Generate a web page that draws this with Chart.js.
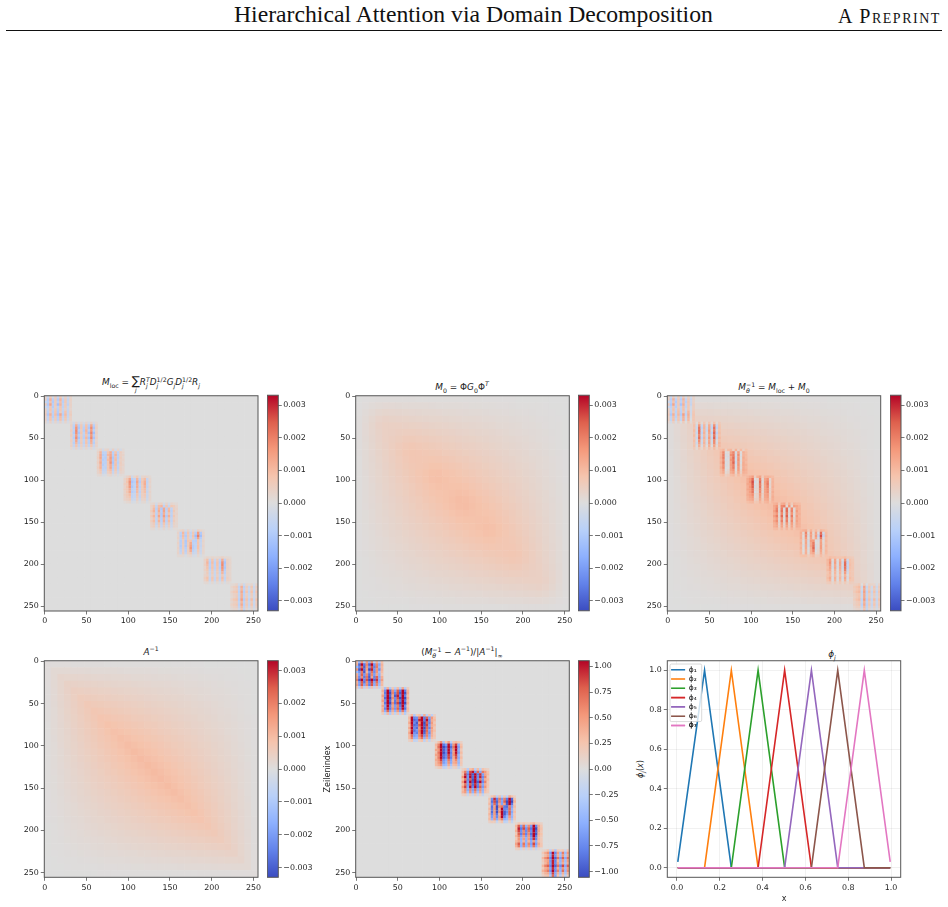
<!DOCTYPE html>
<html>
<head>
<meta charset="utf-8">
<title>Hierarchical Attention via Domain Decomposition</title>
<script src="https://cdn.jsdelivr.net/npm/chart.js@4/dist/chart.umd.min.js"></script>
<style>
    body { margin: 0; background: #fff; width: 948px; height: 907px; overflow: hidden; position: relative; }
    canvas { position: absolute; display: block; }
    .head { position: absolute; font-family: "Liberation Serif", serif; color: #111; white-space: nowrap; }
    .rule { position: absolute; left: 6px; width: 936px; top: 30px; height: 1px; background: #111; }
    .ttl { position: absolute; transform: translateX(-50%); font: italic 8.9px "DejaVu Sans", sans-serif; color: #1a1a1a; white-space: nowrap; line-height: 12px; }
    .ttl i { font-style: normal; }
    .ttl sub, .ttl sup { font-size: 0.7em; line-height: 0; }
    .pair { display: inline-flex; flex-direction: column; vertical-align: middle; font-size: 0.7em; line-height: 0.95em; text-align: left; }
    .sum { display: inline-flex; flex-direction: column; align-items: center; vertical-align: top; line-height: 11px; font-size: 12px; height: 12px; }
    .sum small { font-size: 6px; line-height: 5px; }
    .ylab { position: absolute; transform: translate(-50%, -50%) rotate(-90deg); font: italic 8px "DejaVu Sans", sans-serif; color: #1a1a1a; white-space: nowrap; }
    .ylab sub { font-size: 0.7em; line-height: 0; }
</style>
</head>
<body>
<div class="head" style="left:234px;top:1px;font-size:23.7px;">Hierarchical Attention via Domain Decomposition</div>
<div class="head" style="left:838px;top:5px;font-size:20px;letter-spacing:1.5px;font-variant:small-caps;">A Preprint</div>
<div class="rule"></div>

<div class="ttl" style="left:151px;top:376px;">M<sub><i>loc</i></sub> = <span class="sum"><i>∑</i><small>j</small></span>R<span class="pair"><span>T</span><span>j</span></span>D<span class="pair"><i>1/2</i><span>j</span></span>G<sub>j</sub>D<span class="pair"><i>1/2</i><span>j</span></span>R<sub>j</sub></div>
<div class="ttl" style="left:462px;top:381px;">M<sub><i>0</i></sub> <i>= Φ</i>G<sub><i>0</i></sub><i>Φ</i><sup>T</sup></div>
<div class="ttl" style="left:774px;top:381px;">M<span class="pair"><i>−1</i><span>θ</span></span> <i>=</i> M<sub><i>loc</i></sub> <i>+</i> M<sub><i>0</i></sub></div>
<div class="ttl" style="left:151px;top:646px;">A<sup><i>−1</i></sup></div>
<div class="ttl" style="left:462px;top:646px;"><i>(</i>M<span class="pair"><i>−1</i><span>θ</span></span> <i>−</i> A<sup><i>−1</i></sup><i>)/|</i>A<sup><i>−1</i></sup><i>|</i><sub><i>∞</i></sub></div>
<div class="ttl" style="left:832px;top:648px;">ϕ<sub>j</sub></div>
<div class="ylab" style="left:640px;top:769px;">ϕ<sub>j</sub><span style="font-style:normal">(</span>x<span style="font-style:normal">)</span></div>

<script>
// tick positions and labels
const matrixTicks = [0, 50, 100, 150, 200, 250];
const smallTicks = [-0.003, -0.002, -0.001, 0, 0.001, 0.002, 0.003];
const smallTickLabels = ['−0.003', '−0.002', '−0.001', '0.000', '0.001', '0.002', '0.003'];
const errorTicks = [-1, -0.75, -0.5, -0.25, 0, 0.25, 0.5, 0.75, 1];
const errorTickLabels = ['−1.00', '−0.75', '−0.50', '−0.25', '0.00', '0.25', '0.50', '0.75', '1.00'];
const unitTicks = [0, 0.2, 0.4, 0.6, 0.8, 1];
const unitTickLabels = ['0.0', '0.2', '0.4', '0.6', '0.8', '1.0'];

// colour limits of the two colorbars
const smallLimit = 0.0033;
const errorLimit = 1.055;
const inverseNorm = 0.00105;

// upper triangle of A^-1 on a 32x32 grid, 8 matrix entries per cell, in units of 1e-5
const inverseUpper = [
    [6,6,6,6,5,5,5,5,5,4,4,4,4,4,3,3,3,3,3,2,2,2,2,2,1,1,1,1,1,0,0,0],
    [18,17,17,16,16,15,14,14,13,13,12,11,11,10,10,9,8,8,7,7,6,6,5,4,4,3,3,2,1,1,0],
    [29,28,27,26,25,24,23,22,21,20,19,18,17,16,15,14,13,12,11,10,9,8,7,6,5,4,3,2,1,0],
    [39,38,36,35,34,32,31,29,28,27,25,24,23,21,20,19,17,16,14,13,12,10,9,8,6,5,3,2,1],
    [48,47,45,43,41,40,38,36,34,33,31,29,27,25,24,22,20,18,17,15,13,11,10,8,6,4,3,1],
    [57,55,53,50,48,46,44,42,40,38,35,33,31,29,27,25,23,20,18,16,14,12,10,8,5,3,1],
    [65,62,60,57,55,52,50,47,44,42,39,37,34,32,29,27,24,22,19,17,14,11,9,6,4,1],
    [72,69,66,63,60,57,54,51,48,45,43,40,37,34,31,28,25,22,19,16,13,10,7,4,1],
    [78,75,71,68,65,61,58,55,51,48,45,42,38,35,32,28,25,22,18,15,12,8,5,2],
    [84,80,76,72,69,65,61,58,54,50,46,43,39,35,32,28,24,20,17,13,9,6,2],
    [88,84,80,76,72,68,64,59,55,51,47,43,39,35,31,27,23,18,14,10,6,2],
    [92,88,83,79,74,70,65,61,56,52,47,43,38,34,29,25,20,16,11,7,2],
    [95,90,85,81,76,71,66,61,56,51,46,41,37,32,27,22,17,12,7,2],
    [98,92,87,82,76,71,66,61,55,50,45,40,34,29,24,18,13,8,3],
    [99,93,88,82,76,71,65,59,54,48,42,37,31,25,20,14,8,3],
    [100,94,88,82,76,70,64,57,51,45,39,33,27,21,15,9,3],
    [100,94,87,81,74,68,61,55,48,42,35,29,23,16,10,3],
    [99,92,86,79,72,65,58,51,44,38,31,24,17,10,3],
    [98,90,83,76,69,61,54,47,40,33,25,18,11,4],
    [95,88,80,72,65,57,50,42,34,27,19,11,4],
    [92,84,76,68,60,52,44,36,28,20,12,4],
    [88,80,71,63,55,46,38,29,21,13,4],
    [84,75,66,57,48,40,31,22,13,4],
    [78,69,60,50,41,32,23,14,5],
    [72,62,53,43,33,24,14,5],
    [65,55,45,35,25,15,5],
    [57,47,36,26,16,5],
    [48,38,27,16,5],
    [39,28,17,6],
    [29,17,6],
    [18,6],
    [6]
];

// M_0 inside the eight diagonal blocks (outside them it agrees with A^-1)
const coarseBlocks = [
    [[1,2,3,5],[2,6,10,14],[3,10,17,24],[5,14,24,33]],
    [[43,43,43,42],[43,45,48,50],[43,48,53,58],[42,50,58,66]],
    [[73,71,69,67],[71,72,73,74],[69,73,76,80],[67,74,80,87]],
    [[90,87,83,80],[87,86,85,85],[83,85,88,90],[80,85,90,95]],
    [[95,90,85,80],[90,88,85,83],[85,85,86,87],[80,83,87,90]],
    [[87,80,74,67],[80,76,73,69],[74,73,72,71],[67,69,71,73]],
    [[66,58,50,42],[58,53,48,43],[50,48,45,43],[42,43,43,43]],
    [[33,24,14,5],[24,17,10,3],[14,10,6,2],[5,3,2,1]]
];

// first matrix index of every local block, blocks have 11x11 cells of 3 entries each
const blockStarts = [0, 31, 63, 95, 127, 159, 191, 223];

// M_loc per block, units of 1e-5
const localBlocks = [
    [[35,-45,60,-30,55,-50,60,-25,40,-30,30],
     [45,-90,120,-85,70,-95,115,-70,65,-60,40],
     [-40,-75,85,-95,60,-70,90,-80,70,-50,35],
     [60,-100,140,-80,65,-120,110,-65,60,-70,40],
     [-40,-70,75,-90,50,-65,80,-70,60,-40,35],
     [45,-60,85,-65,70,-80,75,-55,50,-50,30],
     [50,-75,65,-80,80,-90,60,-70,85,-55,45],
     [70,-100,120,-75,95,-110,135,-85,100,-55,55],
     [40,-65,85,-85,65,-80,95,-60,80,-50,40],
     [50,-65,85,-60,65,-80,90,-55,70,-40,40],
     [25,-30,40,-25,30,-30,35,-20,30,-20,20]],
    [[25,-35,45,-30,30,-25,35,-30,45,-30,20],
     [45,-70,125,-90,65,-60,85,-85,135,-85,40],
     [35,-80,170,-105,70,-80,90,-100,180,-105,45],
     [55,-70,185,-85,60,-90,110,-75,155,-80,35],
     [40,-90,175,-110,75,-65,95,-115,190,-120,45],
     [55,-65,150,-85,55,-75,80,-80,160,-85,35],
     [35,-85,180,-110,70,-85,105,-105,185,-110,45],
     [50,-60,135,-75,55,-60,80,-75,125,-70,30],
     [40,-80,105,-85,65,-70,85,-80,115,-85,40],
     [45,-55,80,-60,45,-50,60,-60,75,-50,35],
     [20,-25,35,-30,25,-20,30,-20,30,-25,15]],
    [[20,40,-30,25,35,-25,45,-25,30,-25,15],
     [40,115,-75,-70,75,125,-85,85,-65,55,30],
     [35,125,-90,-80,105,135,-85,110,-75,45,35],
     [50,135,-75,-90,70,155,-105,90,-80,55,25],
     [35,105,-90,-75,95,140,-95,100,-65,45,35],
     [50,130,-75,-80,70,170,-110,85,-80,55,25],
     [35,105,-90,-65,75,125,-90,90,-60,50,35],
     [50,115,-70,-75,70,135,-85,80,-70,45,25],
     [35,80,-65,-55,65,95,-70,70,-55,45,30],
     [35,65,-50,-45,50,75,-50,50,-45,35,25],
     [15,25,-20,-15,20,30,-20,20,-15,15,10]],
    [[15,35,65,-35,30,55,-25,30,35,25,15],
     [40,70,140,-85,-65,110,-70,60,95,-55,30],
     [35,80,175,-110,-85,140,-90,75,120,-65,35],
     [50,60,165,-90,-65,120,-65,65,125,-55,25],
     [35,75,160,-105,-70,125,-75,60,110,-65,35],
     [50,65,130,-80,-65,105,-65,65,95,-50,25],
     [35,70,130,-90,-70,100,-70,55,90,-55,35],
     [45,60,95,-65,-50,75,-50,50,65,-45,25],
     [35,55,75,-65,-50,60,-55,45,55,-45,30],
     [35,45,60,-45,-40,45,-35,35,40,-35,25],
     [10,20,25,-20,-15,20,-15,15,20,-15,10]],
    [[20,30,-25,35,45,-25,35,-25,30,20,15],
     [40,75,-60,95,110,-70,80,-60,70,55,30],
     [35,100,-80,110,-100,135,-85,100,-65,50,35],
     [60,115,-65,130,-85,145,-70,110,-75,70,25],
     [35,75,-75,95,-95,120,-70,80,-65,45,35],
     [60,110,-65,140,-90,155,-95,120,-75,70,25],
     [35,75,-65,90,-85,105,-70,75,-55,45,30],
     [55,95,-60,115,-75,120,-75,95,-65,60,25],
     [35,60,-55,65,-60,75,-55,60,-45,40,25],
     [40,55,-40,60,-50,60,-40,50,-40,35,25],
     [15,20,-15,20,-15,25,-15,20,-15,10,10]],
    [[15,30,40,-25,35,-20,25,-25,45,30,15],
     [35,-70,105,-80,75,-65,70,-85,155,-95,30],
     [30,-85,95,-95,70,-60,85,-130,195,-125,40],
     [40,-65,80,-75,60,-50,60,-95,140,-85,25],
     [25,-85,55,-100,75,85,-80,-85,70,-60,35],
     [40,-80,60,-95,55,130,-75,-70,80,-50,25],
     [30,-90,55,-100,65,145,-90,-65,85,-55,35],
     [40,-75,55,-80,45,165,-90,-55,85,-45,25],
     [30,-65,50,-75,50,125,-75,-45,60,-45,30],
     [35,-50,55,-55,45,70,-50,-40,45,-35,25],
     [15,20,20,-15,15,30,-20,-15,20,-15,10]],
    [[15,30,20,30,20,20,30,40,20,20,15],
     [40,90,-60,80,-50,65,-65,125,-80,45,25],
     [35,110,-80,95,-70,85,-85,175,-110,45,30],
     [45,95,-70,75,-65,85,-70,185,-95,50,25],
     [30,85,-80,85,-70,75,-85,170,-105,45,30],
     [40,70,-60,65,-55,65,-70,150,-85,40,25],
     [25,60,-50,60,-45,60,-60,110,-75,40,25],
     [35,50,-45,45,-45,45,-45,65,-50,35,25],
     [50,85,-50,75,-50,65,-60,95,-60,50,30],
     [40,70,-50,65,-50,55,-50,75,-50,40,30],
     [15,20,-15,20,-15,20,-15,20,-15,15,10]],
    [[15,20,35,-25,35,-35,25,20,25,-20,30],
     [30,50,65,-65,120,-75,55,-45,70,-45,55],
     [20,40,55,-55,105,-65,45,-40,55,-35,45],
     [40,65,80,-70,135,-85,80,-60,85,-55,75],
     [25,45,55,-60,115,-70,45,-45,55,-40,55],
     [20,40,60,-55,115,-65,55,-40,45,-35,45],
     [40,70,85,-75,150,-90,85,-65,95,-55,85],
     [25,45,55,-55,105,-65,55,-45,60,-40,55],
     [40,55,70,-70,130,-75,70,-50,80,-45,65],
     [25,40,45,-50,95,-60,45,-40,45,-35,45],
     [15,25,30,-30,80,-60,30,-25,30,-20,25]]
];

// hat functions at their knots
const knots = [0.004, 0.129, 0.254, 0.379, 0.503, 0.628, 0.751, 0.875, 0.996];
const phi1 = [0.03, 1, 0, 0, 0, 0, 0, 0, 0];
const phi2 = [0, 0, 1, 0, 0, 0, 0, 0, 0];
const phi3 = [0, 0, 0, 1, 0, 0, 0, 0, 0];
const phi4 = [0, 0, 0, 0, 1, 0, 0, 0, 0];
const phi5 = [0, 0, 0, 0, 0, 1, 0, 0, 0];
const phi6 = [0, 0, 0, 0, 0, 0, 1, 0, 0];
const phi7 = [0, 0, 0, 0, 0, 0, 0, 1, 0.03];
const phiSeries = [phi1, phi2, phi3, phi4, phi5, phi6, phi7];
const phiNames = ['ϕ₁', 'ϕ₂', 'ϕ₃', 'ϕ₄', 'ϕ₅', 'ϕ₆', 'ϕ₇'];
const phiColors = ['#1f77b4', '#ff7f0e', '#2ca02c', '#d62728', '#9467bd', '#8c564b', '#e377c2'];

// coolwarm colormap
const coolwarm = [
    [59, 76, 192], [98, 130, 234], [141, 176, 254], [184, 208, 249], [221, 221, 221],
    [245, 196, 173], [244, 152, 122], [222, 96, 77], [180, 4, 38]
];

const fontFamily = '"DejaVu Sans", sans-serif';
const inkColor = '#222';
const spineColor = '#555';

function colorOf(value, limit) {
    const t = Math.min(1, Math.max(0, (value / limit + 1) / 2)) * (coolwarm.length - 1);
    const k = Math.min(coolwarm.length - 2, Math.floor(t));
    const f = t - k;
    const c = coolwarm[k].map((a, n) => Math.round(a + (coolwarm[k + 1][n] - a) * f));
    return `rgb(${c[0]},${c[1]},${c[2]})`;
}

function inverseAt(i, j) {
    return i <= j ? inverseUpper[i][j - i] : inverseUpper[j][i - j];
}

function m0At(i, j) {
    if ((i >> 2) === (j >> 2)) {
        return coarseBlocks[i >> 2][i % 4][j % 4];
    }
    return inverseAt(i, j);
}

function coarseCells(valueAt) {
    const cells = [];
    for (let i = 0; i < 32; i++) {
        for (let j = 0; j < 32; j++) {
            cells.push({ x: j * 8 + 3.5, y: i * 8 + 3.5, w: 8, v: valueAt(i, j) });
        }
    }
    return cells;
}

function fineCells(valueAt) {
    const cells = [];
    localBlocks.forEach((block, b) => {
        block.forEach((row, r) => {
            row.forEach((loc, c) => {
                const x = blockStarts[b] + c * 3 + 1;
                const y = blockStarts[b] + r * 3 + 1;
                const i = Math.min(31, Math.floor(y / 8));
                const j = Math.min(31, Math.floor(x / 8));
                cells.push({ x: x, y: y, w: 3, v: valueAt(loc, i, j) });
            });
        });
    });
    return cells;
}

// frame around the plot area, the axes themselves only draw tick marks
const framePlugin = {
    id: 'frame',
    afterDraw(chart) {
        const a = chart.chartArea;
        const ctx = chart.ctx;
        ctx.save();
        ctx.strokeStyle = spineColor;
        ctx.lineWidth = 1;
        ctx.strokeRect(a.left, a.top, a.right - a.left, a.bottom - a.top);
        ctx.restore();
    }
};

// the legend sits on top of the lines with a translucent box behind it
const legendBoxPlugin = {
    id: 'legendBox',
    beforeDraw(chart) {
        const a = chart.chartArea;
        chart.legend.left = a.left + 2;
        chart.legend.top = a.top + 3.4;
        chart.legend.bottom = a.bottom;
    },
    afterDatasetsDraw(chart) {
        const hits = chart.legend.legendHitBoxes;
        const ctx = chart.ctx;
        const left = chart.chartArea.left + 2.7;
        const top = chart.chartArea.top + 3.3;
        const last = hits[hits.length - 1];
        ctx.save();
        ctx.beginPath();
        ctx.roundRect(left, top, 31.7, last.top + last.height - top + 2.5, 1.5);
        ctx.fillStyle = 'rgba(255,255,255,0.8)';
        ctx.fill();
        ctx.strokeStyle = '#cfcfcf';
        ctx.lineWidth = 0.8;
        ctx.stroke();
        ctx.restore();
        chart.legend.draw();
    }
};

function addCanvas(left, top, width, height) {
    const canvas = document.createElement('canvas');
    canvas.width = width;
    canvas.height = height;
    canvas.style.left = left + 'px';
    canvas.style.top = top + 'px';
    canvas.style.width = width + 'px';
    canvas.style.height = height + 'px';
    document.body.appendChild(canvas);
    return canvas;
}

function tickedAxis(ticks, labels) {
    return {
        type: 'linear',
        afterBuildTicks(scale) {
            scale.ticks = ticks.map(v => ({ value: v }));
        },
        border: { display: false },
        grid: { drawOnChartArea: false, drawTicks: true, tickLength: 3.5, tickColor: spineColor, tickWidth: 0.8 },
        ticks: {
            autoSkip: false,
            maxRotation: 0,
            padding: 2,
            color: inkColor,
            font: { family: fontFamily, size: 7.9 },
            callback: labels ? (v => labels[ticks.indexOf(v)]) : (v => String(v))
        }
    };
}

// box describes the plot area in page pixels
function placeChart(box, config) {
    const left = Math.floor(box.l) - 40;
    const top = Math.floor(box.t) - 6;
    const right = Math.ceil(box.r) + 14;
    const bottom = Math.ceil(box.b) + 26;
    const canvas = addCanvas(left, top, right - left, bottom - top);
    config.options.layout = { padding: { top: box.t - top, right: right - box.r, left: 0, bottom: 0 } };
    config.options.scales.y.afterFit = s => { s.width = box.l - left; };
    config.options.scales.x.afterFit = s => { s.height = bottom - box.b; };
    config.options.responsive = false;
    config.options.animation = false;
    config.options.events = [];
    return new Chart(canvas, config);
}

function drawMatrix(box, coarse, fine, limit, yTitle) {
    const cellRadius = ctx => {
        const s = ctx.chart.scales.x;
        const w = Math.abs(s.getPixelForValue(ctx.raw.w) - s.getPixelForValue(0));
        const overlap = ctx.raw.w > 3 ? 0.3 : 0.1;
        return (w / 2 + overlap) * Math.SQRT2;
    };
    const cellColor = ctx => colorOf(ctx.raw.v, limit);
    const dataset = cells => ({
        data: cells,
        showLine: false,
        clip: 0,
        pointStyle: 'rect',
        pointRadius: cellRadius,
        pointBorderWidth: 0,
        pointBackgroundColor: cellColor
    });

    const xAxis = tickedAxis(matrixTicks);
    xAxis.min = -0.5;
    xAxis.max = 255.5;
    const yAxis = tickedAxis(matrixTicks);
    yAxis.min = -0.5;
    yAxis.max = 255.5;
    yAxis.reverse = true;
    if (yTitle) {
        yAxis.title = {
            display: true,
            text: yTitle,
            color: inkColor,
            font: { family: fontFamily, size: 8 },
            padding: { top: 8, bottom: 0 }
        };
    }

    const datasets = fine ? [dataset(fine), dataset(coarse)] : [dataset(coarse)];
    placeChart(box, {
        type: 'scatter',
        data: { datasets: datasets },
        options: {
            scales: { x: xAxis, y: yAxis },
            plugins: { legend: { display: false }, tooltip: { enabled: false } }
        },
        plugins: [framePlugin]
    });
}

function drawColorbar(box, limit, ticks, labels) {
    const left = Math.floor(box.l);
    const right = Math.ceil(box.r) + 34;
    const top = Math.floor(box.t) - 6;
    const bottom = Math.ceil(box.b) + 6;
    const canvas = addCanvas(left, top, right - left, bottom - top);
    const yAxis = tickedAxis(ticks, labels);
    yAxis.position = 'right';
    yAxis.min = -limit;
    yAxis.max = limit;
    yAxis.afterFit = s => { s.width = right - box.r; };
    yAxis.ticks.padding = 1.5;
    new Chart(canvas, {
        type: 'bar',
        data: {
            labels: [''],
            datasets: [{
                data: [[-limit, limit]],
                barPercentage: 1,
                categoryPercentage: 1,
                backgroundColor(ctx) {
                    const area = ctx.chart.chartArea;
                    // the chart area is not known until the first layout has run
                    if (!area) {
                        return 'rgb(221,221,221)';
                    }
                    const g = ctx.chart.ctx.createLinearGradient(0, area.bottom, 0, area.top);
                    coolwarm.forEach((c, k) => {
                        g.addColorStop(k / (coolwarm.length - 1), `rgb(${c[0]},${c[1]},${c[2]})`);
                    });
                    return g;
                }
            }]
        },
        options: {
            responsive: false,
            animation: false,
            events: [],
            layout: { padding: { top: box.t - top, bottom: bottom - box.b, left: box.l - left, right: 0 } },
            scales: { x: { display: false }, y: yAxis },
            plugins: { legend: { display: false }, tooltip: { enabled: false } }
        },
        plugins: [framePlugin]
    });
}

function drawHats(box) {
    const xAxis = tickedAxis(unitTicks, unitTickLabels);
    xAxis.min = -0.045;
    xAxis.max = 1.045;
    xAxis.grid.drawOnChartArea = true;
    xAxis.grid.color = 'rgba(0,0,0,0.07)';
    xAxis.grid.lineWidth = 0.8;
    xAxis.title = {
        display: true,
        text: 'x',
        color: inkColor,
        font: { family: fontFamily, size: 8 },
        padding: { top: 2, bottom: 0 }
    };
    const yAxis = tickedAxis(unitTicks, unitTickLabels);
    yAxis.min = -0.0486;
    yAxis.max = 1.0486;
    yAxis.grid.drawOnChartArea = true;
    yAxis.grid.color = 'rgba(0,0,0,0.07)';
    yAxis.grid.lineWidth = 0.8;

    // later curves are painted over earlier ones
    const datasets = phiSeries.map((values, s) => ({
        label: phiNames[s],
        data: values.map((v, k) => ({ x: knots[k], y: v })),
        showLine: true,
        tension: 0,
        borderColor: phiColors[s],
        borderWidth: 1.6,
        pointRadius: 0,
        order: phiSeries.length - s
    }));

    placeChart(box, {
        type: 'scatter',
        data: { datasets: datasets },
        options: {
            scales: { x: xAxis, y: yAxis },
            plugins: {
                tooltip: { enabled: false },
                legend: {
                    position: 'chartArea',
                    align: 'start',
                    labels: {
                        font: { family: fontFamily, size: 7.5 },
                        color: inkColor,
                        boxWidth: 17,
                        boxHeight: 7,
                        padding: 1.8,
                        usePointStyle: true,
                        pointStyleWidth: 14,
                        generateLabels() {
                            return phiNames.map((name, s) => ({
                                text: name,
                                fontColor: inkColor,
                                strokeStyle: phiColors[s],
                                fillStyle: phiColors[s],
                                lineWidth: 1.6,
                                pointStyle: 'line',
                                datasetIndex: s
                            }));
                        }
                    }
                }
            }
        },
        plugins: [legendBoxPlugin, framePlugin]
    });
}

// panel positions
const rowTop = { t: 395, b: 611 };
const rowBottom = { t: 660.7, b: 877.3 };
const col1 = { l: 44.3, r: 258 };
const col2 = { l: 355.7, r: 569.3 };
const col3 = { l: 667.3, r: 880.7 };
const bar1 = { l: 267.3, r: 278.3 };
const bar2 = { l: 578.3, r: 589.3 };
const bar3 = { l: 890, r: 901 };

const zero = () => 0;
const scaled = v => v * 1e-5;

// M_loc
drawMatrix({ ...col1, ...rowTop }, coarseCells(zero), fineCells(loc => scaled(loc)), smallLimit);
drawColorbar({ ...bar1, ...rowTop }, smallLimit, smallTicks, smallTickLabels);

// M_0
drawMatrix({ ...col2, ...rowTop }, coarseCells((i, j) => scaled(m0At(i, j))), null, smallLimit);
drawColorbar({ ...bar2, ...rowTop }, smallLimit, smallTicks, smallTickLabels);

// M_loc + M_0
drawMatrix({ ...col3, ...rowTop }, coarseCells((i, j) => scaled(m0At(i, j))),
    fineCells((loc, i, j) => scaled(loc + m0At(i, j))), smallLimit);
drawColorbar({ ...bar3, ...rowTop }, smallLimit, smallTicks, smallTickLabels);

// A^-1
drawMatrix({ ...col1, ...rowBottom }, coarseCells((i, j) => scaled(inverseAt(i, j))), null, smallLimit);
drawColorbar({ ...bar1, ...rowBottom }, smallLimit, smallTicks, smallTickLabels);

// relative error, only the diagonal blocks differ
drawMatrix({ ...col2, ...rowBottom }, coarseCells(zero),
    fineCells((loc, i, j) => scaled(loc + m0At(i, j) - inverseAt(i, j)) / inverseNorm), errorLimit, 'Zeilenindex');
drawColorbar({ ...bar2, ...rowBottom }, errorLimit, errorTicks, errorTickLabels);

// coarse basis
drawHats({ l: 667.3, r: 900.7, ...rowBottom });
</script>
</body>
</html>
